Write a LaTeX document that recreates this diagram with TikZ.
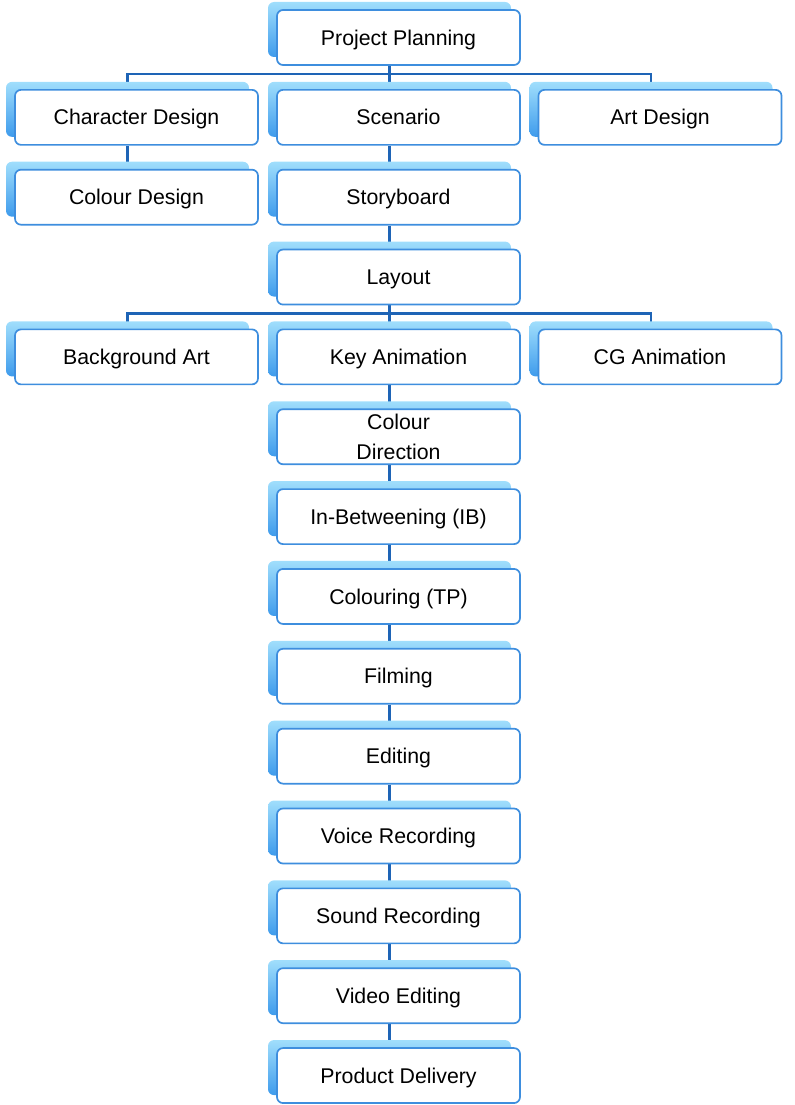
\documentclass[tikz,border=0pt]{standalone}
\usepackage{fontspec}
\setmainfont{Liberation Sans}
\usetikzlibrary{shadows,backgrounds}
\definecolor{boxline}{RGB}{62,142,222}
\definecolor{backtop}{RGB}{160,222,252}
\definecolor{backbot}{RGB}{62,155,236}
\definecolor{linkblue}{RGB}{30,100,182}
\tikzset{
  stage/.style={draw=boxline, line width=1.2pt, fill=white, rounded corners=0.15cm,
    minimum width=6.075cm, minimum height=1.375cm, inner sep=2pt, align=center,
    font=\fontsize{15.15}{21.3}\selectfont, text height=12pt, text depth=1.15pt,
    general shadow={shadow xshift=-0.225cm, shadow yshift=0.2cm,
      top color=backtop, bottom color=backbot}},
  link/.style={draw=linkblue, line width=1.6pt}
}
\begin{document}
\begin{tikzpicture}
   \useasboundingbox (0,0) rectangle (19.85,-27.625);

   \node[stage] (plan) at (9.9625,-0.9375) {Project Planning};
   \node[stage] (chardes) at (3.4125,-2.93375) {Character Design};
   \node[stage] (scen) at (9.9625,-2.93375) {Scenario};
   \node[stage] (artdes) at (16.5,-2.93375) {Art Design};
   \node[stage] (coldes) at (3.4125,-4.93) {Colour Design};
   \node[stage] (story) at (9.9625,-4.93) {Storyboard};
   \node[stage] (layout) at (9.9625,-6.92625) {Layout};
   \node[stage] (bgart) at (3.4125,-8.9225) {Background Art};
   \node[stage] (keyanim) at (9.9625,-8.9225) {Key Animation};
   \node[stage] (cganim) at (16.5,-8.9225) {CG Animation};
   \node[stage, text height={}, text depth={}] (coldir) at (9.9625,-10.91875) {Colour\\Direction};
   \node[stage] (inbetw) at (9.9625,-12.915) {In-Betweening (IB)};
   \node[stage] (colouring) at (9.9625,-14.91125) {Colouring (TP)};
   \node[stage] (filming) at (9.9625,-16.9075) {Filming};
   \node[stage] (editing) at (9.9625,-18.90375) {Editing};
   \node[stage] (voice) at (9.9625,-20.9) {Voice Recording};
   \node[stage] (sound) at (9.9625,-22.89625) {Sound Recording};
   \node[stage] (video) at (9.9625,-24.8925) {Video Editing};
   \node[stage] (deliv) at (9.9625,-26.88875) {Product Delivery};

   \begin{scope}[on background layer]
   % bus under project planning
   \draw[link] ([xshift=-0.225cm]chardes.north) |- ([xshift=-0.225cm,yshift=-0.2cm]plan.south)
   -| ([xshift=-0.225cm]artdes.north);
   \draw[link] ([xshift=-0.225cm]chardes.south) -- ([xshift=-0.225cm]coldes.north);
   % bus under layout
   \draw[link] ([xshift=-0.225cm]bgart.north) |- ([xshift=-0.225cm,yshift=-0.2cm]layout.south)
   -| ([xshift=-0.225cm]cganim.north);
   % main column
   \draw[link]
   ([xshift=-0.225cm]plan.south) -- ([xshift=-0.225cm]scen.north)
   ([xshift=-0.225cm]scen.south) -- ([xshift=-0.225cm]story.north)
   ([xshift=-0.225cm]story.south) -- ([xshift=-0.225cm]layout.north)
   ([xshift=-0.225cm]layout.south) -- ([xshift=-0.225cm]keyanim.north)
   ([xshift=-0.225cm]keyanim.south) -- ([xshift=-0.225cm]coldir.north)
   ([xshift=-0.225cm]coldir.south) -- ([xshift=-0.225cm]inbetw.north)
   ([xshift=-0.225cm]inbetw.south) -- ([xshift=-0.225cm]colouring.north)
   ([xshift=-0.225cm]colouring.south) -- ([xshift=-0.225cm]filming.north)
   ([xshift=-0.225cm]filming.south) -- ([xshift=-0.225cm]editing.north)
   ([xshift=-0.225cm]editing.south) -- ([xshift=-0.225cm]voice.north)
   ([xshift=-0.225cm]voice.south) -- ([xshift=-0.225cm]sound.north)
   ([xshift=-0.225cm]sound.south) -- ([xshift=-0.225cm]video.north)
   ([xshift=-0.225cm]video.south) -- ([xshift=-0.225cm]deliv.north);
   \end{scope}

\end{tikzpicture}
\end{document}
